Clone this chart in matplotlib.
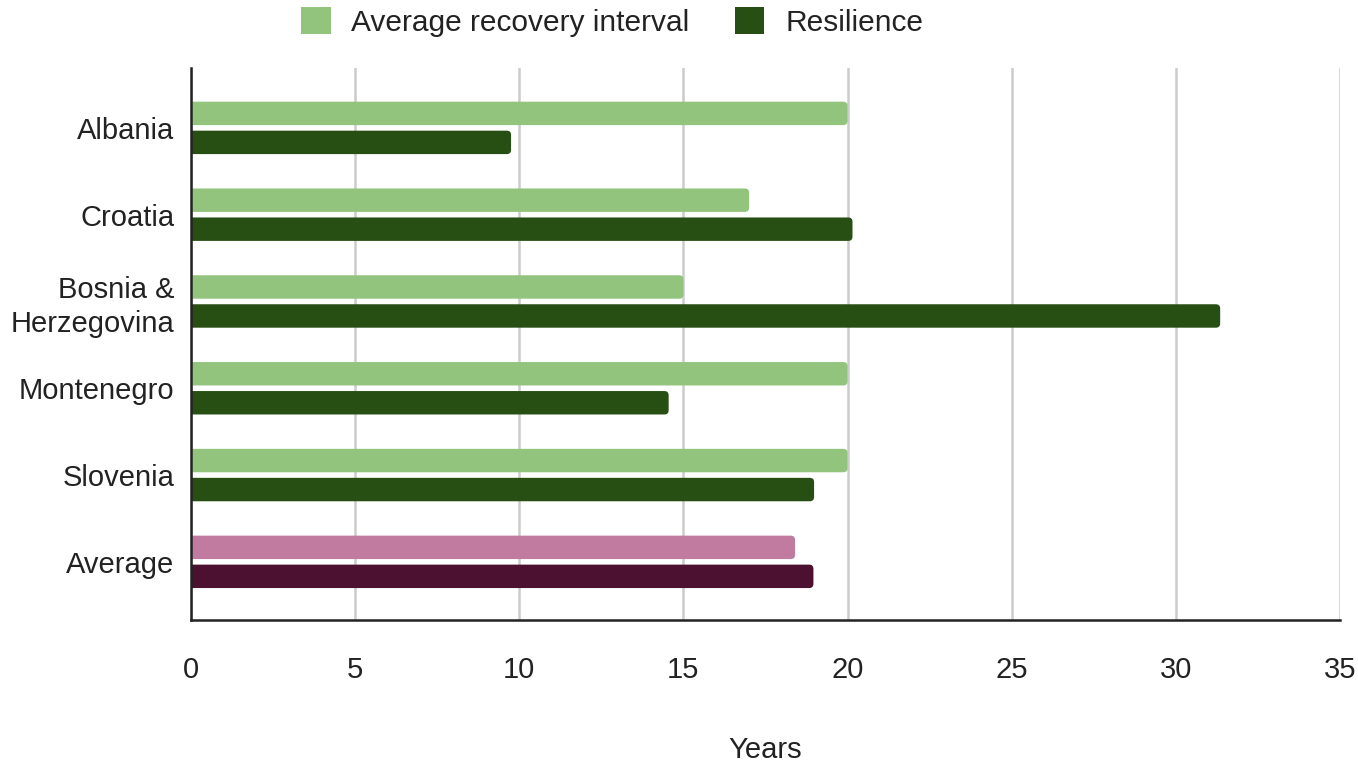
import matplotlib.pyplot as plt
from matplotlib.patches import FancyBboxPatch, Patch

plt.rcParams["font.family"] = ["Liberation Sans", "DejaVu Sans"]

countries = ["Albania", "Croatia", "Bosnia &\nHerzegovina", "Montenegro", "Slovenia", "Average"]
recovery = [20.0, 17.0, 15.0, 20.0, 20.0, 18.4]
resilience = [9.75, 20.15, 31.35, 14.55, 18.98, 18.96]

light_cols = ["#93c47d"] * 5 + ["#c27ba0"]
dark_cols = ["#274e13"] * 5 + ["#4c1130"]

XMAX = 35
BAR_H = 0.27
OFFSET = 0.167
FS = 21

fig = plt.figure(figsize=(13.58, 7.64), dpi=100)
ax = fig.add_axes([191 / 1358, 1 - 620 / 764, 1149 / 1358, 552 / 764])
ax.set_xlim(0, XMAX)
ax.set_ylim(5.67, -0.69)

# y-units per pixel / x-units per pixel, so the corner radius looks round
aspect = (6.36 / 552) / (XMAX / 1149)


def rounded_bar(y, value, color):
    # start slightly left of zero so the left corners get clipped by the axes
    box = FancyBboxPatch((-0.2, y - BAR_H / 2), value + 0.2, BAR_H,
                         boxstyle="round,pad=0,rounding_size=0.13",
                         mutation_aspect=aspect, fc=color, ec="none", zorder=3)
    ax.add_patch(box)


for i in range(len(countries)):
    rounded_bar(i - OFFSET, recovery[i], light_cols[i])
    rounded_bar(i + OFFSET, resilience[i], dark_cols[i])

ax.set_yticks(range(len(countries)))
ax.set_yticklabels(countries, fontsize=FS, color="#222222", linespacing=1.25)
ax.set_xticks(range(0, XMAX + 1, 5))
ax.tick_params(axis="x", labelsize=FS, pad=26, length=0, colors="#222222")
ax.tick_params(axis="y", length=0, pad=12)
ax.grid(axis="x", color="#cccccc", lw=1.8, zorder=0)
ax.set_axisbelow(True)
for s in ["top", "right"]:
    ax.spines[s].set_visible(False)
for s in ["left", "bottom"]:
    ax.spines[s].set_linewidth(1.8)
    ax.spines[s].set_color("#222222")
    ax.spines[s].set_zorder(4)

ax.set_xlabel("Years", fontsize=FS, color="#222222", labelpad=37)

handles = [Patch(fc="#93c47d", label="Average recovery interval"),
           Patch(fc="#274e13", label="Resilience")]
fig.legend(handles=handles, loc="upper center", bbox_to_anchor=(612 / 1358, 1.026),
           ncol=2, frameon=False, fontsize=21.5, handlelength=1.0, handleheight=1.0,
           handletextpad=0.7, columnspacing=1.5, labelcolor="#222222")

fig.savefig("out.png", dpi=100, facecolor="white")
